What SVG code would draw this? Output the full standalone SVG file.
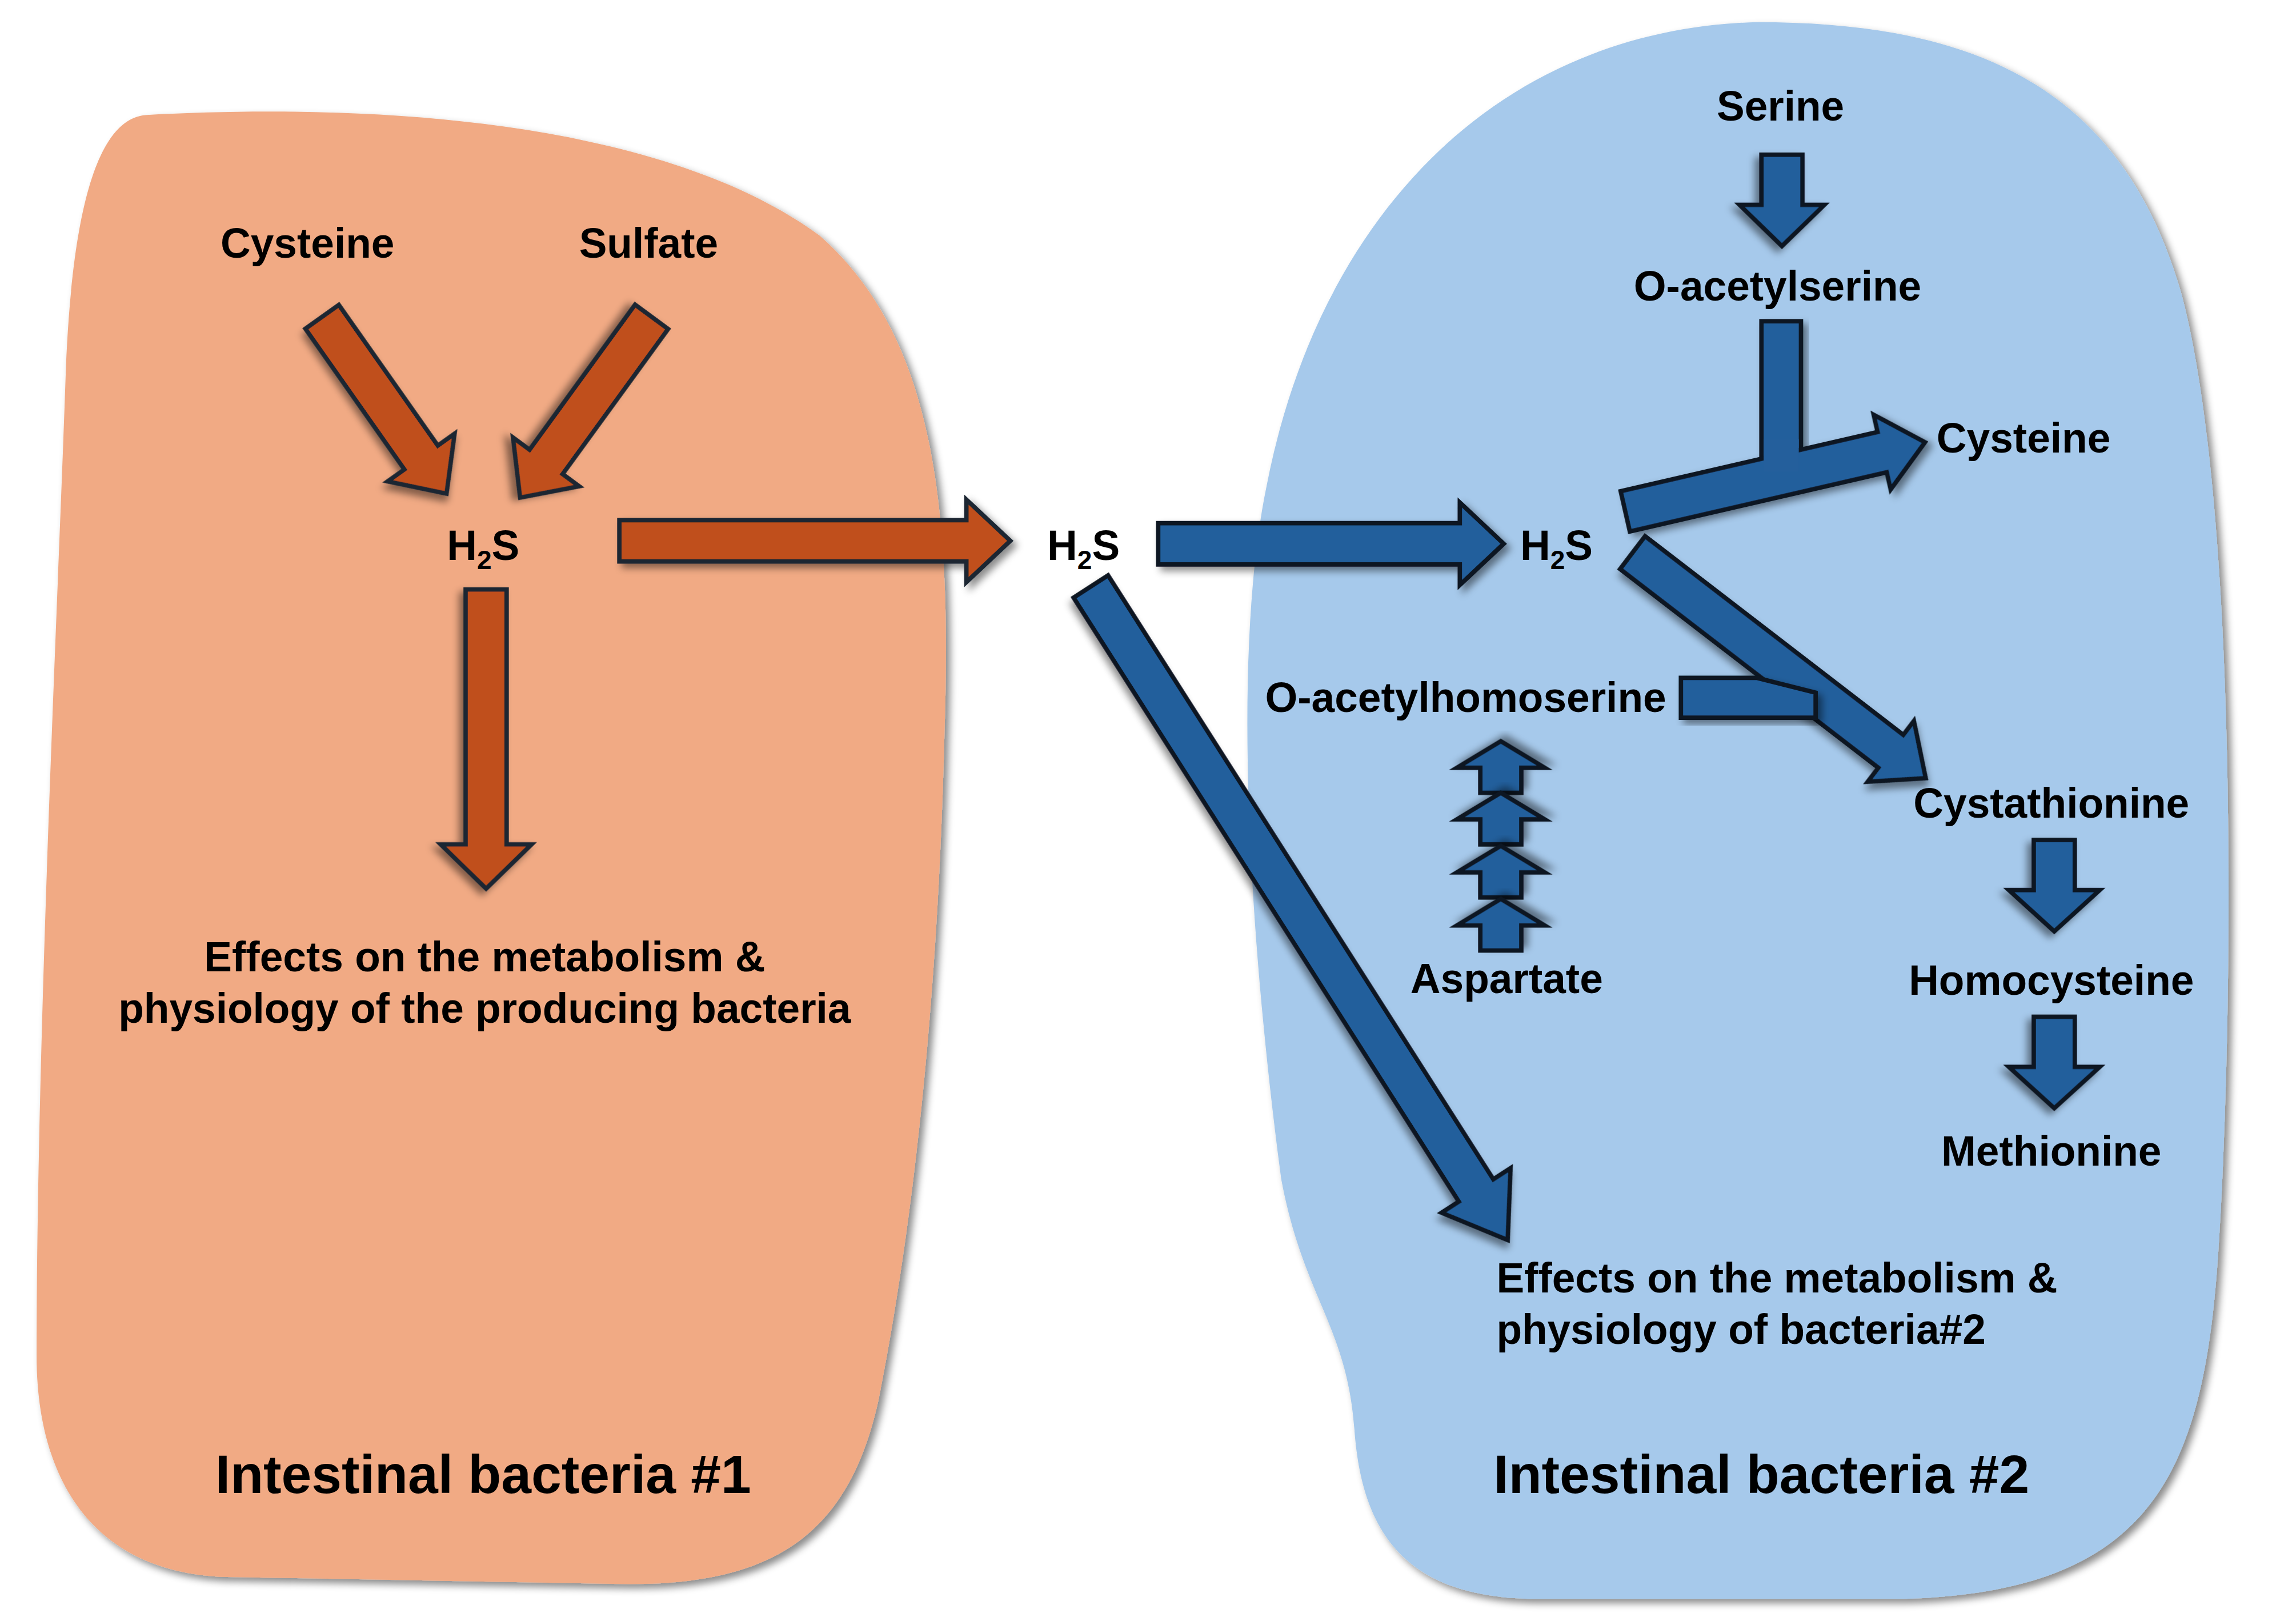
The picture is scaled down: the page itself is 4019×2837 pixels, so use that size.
<svg xmlns="http://www.w3.org/2000/svg" width="4019" height="2837" viewBox="0 0 4019 2837">
<defs>
<filter id="sh" x="-20%" y="-20%" width="140%" height="140%"><feDropShadow dx="3" dy="3" stdDeviation="2.5" flood-color="#000" flood-opacity="0.45"/></filter>
<style>
.o{fill:#c0501a;stroke:#1b2633;stroke-width:3;stroke-linejoin:miter;filter:url(#sh)}
.b{fill:#245f9c;stroke:#0d1620;stroke-width:3;stroke-linejoin:miter;filter:url(#sh)}
text{font-family:"Liberation Sans",Arial,sans-serif;font-weight:bold;font-size:28.5px;fill:#000;text-anchor:middle}
.big{font-size:37px}
.l{text-anchor:start}
</style>
</defs>
<rect width="4019" height="2837" fill="#fff"/>
<g transform="scale(2.563,2.5791)">
<g id="bacteria1">
<path d="M100,78 C250,70 450,80 560,160 C640,230 650,350 645,500 C640,700 620,850 600,950 C580,1040 530,1075 430,1075 L150,1070 C60,1065 25,1000 25,920 C25,700 40,400 45,250 C50,130 70,80 100,78 Z" fill="#f1aa84" filter="url(#sh)"/>
</g>
<g id="bacteria2">
<path d="M1200,15 C1350,15 1450,60 1490,200 C1530,350 1525,700 1515,850 C1505,1000 1470,1080 1300,1085 L1050,1085 C960,1085 930,1040 925,970 C920,900 890,880 875,800 C855,650 840,450 865,330 C900,150 1020,20 1200,15 Z" fill="#a6c9eb" filter="url(#sh)"/>
</g>
<g id="connectors">
<polygon class="o" transform="translate(220,215) rotate(54.7)" points="0,-14 117,-14 117,-28 147,0 117,28 117,14 0,14"/>
<polygon class="o" transform="translate(445,215) rotate(126.2)" points="0,-14 122,-14 122,-28 152,0 122,28 122,14 0,14"/>
<polygon class="o" transform="translate(332,400) rotate(90)" points="0,-14 173,-14 173,-31 203,0 173,31 173,14 0,14"/>
<polygon class="o" transform="translate(423,367)" points="0,-14 237,-14 237,-28 267,0 237,28 237,14 0,14"/>
<polygon class="b" transform="translate(791,369)" points="0,-14 206,-14 206,-28 236,0 206,28 206,14 0,14"/>
<polygon class="b" transform="translate(745,398) rotate(57.3)" points="0,-14 487,-14 487,-28 527,0 487,28 487,14 0,14"/>
<polygon class="b" transform="translate(1217,105) rotate(90)" points="0,-14 34,-14 34,-29 62,0 34,29 34,14 0,14"/>
<rect class="b" x="1203" y="218" width="27" height="110"/>
<polygon class="b" transform="translate(1110,347) rotate(-12.9)" points="0,-14 180,-14 180,-26 210,0 180,26 180,14 0,14"/>
<rect x="1204.5" y="298" width="24" height="22" fill="#245f9c"/>
<polygon class="b" transform="translate(1115,375) rotate(37.4)" points="0,-14 222,-14 222,-26 252,0 222,26 222,14 0,14"/>
<polygon class="b" points="1148,460 1200,460 1240,470 1240,487 1148,487"/>
<polygon class="b" transform="translate(1403,570) rotate(90)" points="0,-14 34,-14 34,-31 62,0 34,31 34,14 0,14"/>
<polygon class="b" transform="translate(1403,690) rotate(90)" points="0,-14 34,-14 34,-31 62,0 34,31 34,14 0,14"/>
<polygon class="b" transform="translate(1025,538) rotate(-90)" points="0,-14 17,-14 17,-30 35,0 17,30 17,14 0,14"/>
<polygon class="b" transform="translate(1025,573) rotate(-90)" points="0,-14 17,-14 17,-30 35,0 17,30 17,14 0,14"/>
<polygon class="b" transform="translate(1025,609) rotate(-90)" points="0,-14 17,-14 17,-30 35,0 17,30 17,14 0,14"/>
<polygon class="b" transform="translate(1025,645) rotate(-90)" points="0,-14 17,-14 17,-30 35,0 17,30 17,14 0,14"/>
</g>
<g id="labels">
<text x="210" y="175">Cysteine</text>
<text x="443" y="175">Sulfate</text>
<text x="330" y="380">H<tspan font-size="18" dy="6">2</tspan><tspan dy="-6">S</tspan></text>
<text x="740" y="380">H<tspan font-size="18" dy="6">2</tspan><tspan dy="-6">S</tspan></text>
<text x="1063" y="380">H<tspan font-size="18" dy="6">2</tspan><tspan dy="-6">S</tspan></text>
<text x="1216" y="82">Serine</text>
<text x="1214" y="204">O-acetylserine</text>
<text x="1382" y="307">Cysteine</text>
<text x="1001" y="483">O-acetylhomoserine</text>
<text x="1401" y="555">Cystathionine</text>
<text x="1029" y="674">Aspartate</text>
<text x="1401" y="675">Homocysteine</text>
<text x="1401" y="791">Methionine</text>
<text x="331" y="659">Effects on the metabolism &amp;</text>
<text x="331" y="694">physiology of the producing bacteria</text>
<text class="l" x="1022" y="877">Effects on the metabolism &amp;</text>
<text class="l" x="1022" y="912">physiology of bacteria#2</text>
<text class="big" x="330" y="1013">Intestinal bacteria #1</text>
<text class="big" x="1203" y="1013">Intestinal bacteria #2</text>
</g>
</g>
</svg>
